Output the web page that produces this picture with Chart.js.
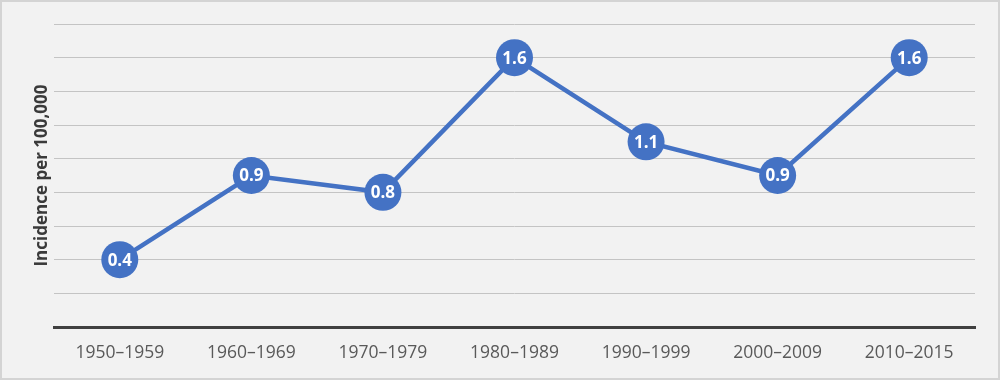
<!DOCTYPE html>
<html>
<head>
<meta charset="utf-8">
<script src="https://cdn.jsdelivr.net/npm/chart.js@4/dist/chart.umd.min.js"></script>
<style>
  html, body { margin: 0; padding: 0; background: #f2f2f2; }
  #wrap { width: 1000px; height: 380px; position: relative; }
</style>
</head>
<body>
<div id="wrap"><canvas id="c" width="1000" height="380"></canvas></div>
<script>
const decades = ['1950–1959', '1960–1969', '1970–1979', '1980–1989', '1990–1999', '2000–2009', '2010–2015'];
const incidence = [0.4, 0.9, 0.8, 1.6, 1.1, 0.9, 1.6];
const yMin = 0, yMax = 1.8, yStep = 0.2;

const blue = '#4472C4';

// background + frame
const frame = {
  id: 'frame',
  beforeDraw(chart) {
    const ctx = chart.ctx;
    ctx.save();
    ctx.fillStyle = '#f2f2f2';
    ctx.fillRect(0, 0, chart.width, chart.height);
    ctx.strokeStyle = '#d4d4d4';
    ctx.lineWidth = 2;
    ctx.strokeRect(1, 1, chart.width - 2, chart.height - 2);
    ctx.restore();
  }
};

// value labels inside the markers
const valueLabels = {
  id: 'valueLabels',
  afterDatasetsDraw(chart) {
    const ctx = chart.ctx;
    const meta = chart.getDatasetMeta(0);
    ctx.save();
    ctx.fillStyle = '#ffffff';
    ctx.font = 'bold 17px "Open Sans"';
    ctx.textAlign = 'center';
    ctx.textBaseline = 'middle';
    meta.data.forEach((pt, i) => {
      ctx.fillText(incidence[i].toFixed(1), pt.x, pt.y + 1);
    });
    ctx.restore();
  }
};

new Chart(document.getElementById('c'), {
  type: 'line',
  data: {
    labels: decades,
    datasets: [{
      data: incidence,
      borderColor: blue,
      borderWidth: 4.5,
      pointRadius: 18.5,
      pointHoverRadius: 18.5,
      pointBackgroundColor: blue,
      pointBorderColor: blue,
      pointBorderWidth: 0,
      tension: 0
    }]
  },
  options: {
    responsive: false,
    animation: false,
    events: [],
    layout: { padding: { top: 24, right: 25, left: 0, bottom: 0 } },
    plugins: { legend: { display: false }, tooltip: { enabled: false } },
    scales: {
      x: {
        offset: true,
        grid: { display: false, drawTicks: false },
        border: { display: true, color: '#404040', width: 3 },
        ticks: { color: '#595959', font: { family: 'Open Sans', size: 17.5 }, padding: 16, maxRotation: 0 },
        afterFit(s) { s.height = 53; }
      },
      y: {
        min: yMin,
        max: yMax,
        ticks: { display: false, stepSize: yStep },
        grid: { color: '#c4c4c4', lineWidth: 1, drawTicks: false },
        border: { display: false },
        title: {
          display: true,
          text: 'Incidence per 100,000',
          color: '#3a3a3a',
          font: { family: 'Open Sans', size: 17, weight: 'bold' },
          padding: { top: 32, bottom: 0 }
        },
        afterFit(s) { s.width = 54; }
      }
    }
  },
  plugins: [frame, valueLabels]
});
</script>
</body>
</html>
